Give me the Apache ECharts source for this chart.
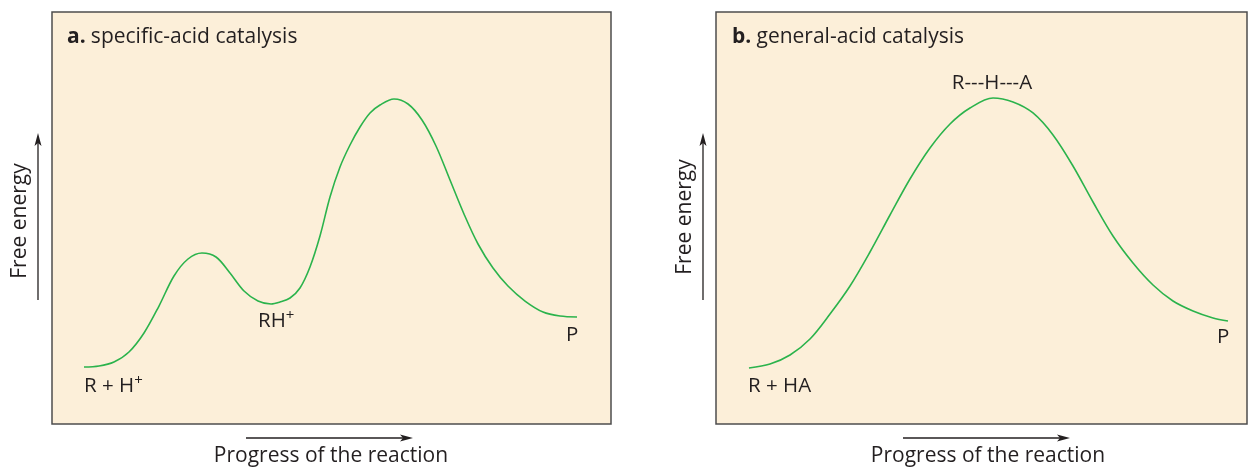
<!DOCTYPE html>
<html><head><meta charset="utf-8">
<script src="https://cdn.jsdelivr.net/npm/echarts@6/dist/echarts.min.js"></script>
<style>html,body{margin:0;padding:0;background:#fff}#c{width:1249px;height:468px}</style>
</head><body><div id="c"></div>
<script>
// Panel a: specific-acid catalysis (progress 0-100, free energy 0-100)
const specificProgress = [5.72, 8.41, 11.09, 13.77, 16.46, 19.14, 21.82, 24.33, 26.83, 29.34, 31.84, 34.35, 36.85, 39.18, 40.79, 42.58, 44.36, 46.15, 47.94, 49.73, 51.52, 53.31, 55.10, 56.89, 58.68, 61.18, 63.69, 66.19, 68.69, 71.20, 73.70, 76.21, 78.89, 81.57, 84.62, 87.84, 90.88, 93.92];
const specificEnergy   = [13.83, 14.08, 15.05, 17.48, 22.09, 28.64, 35.92, 40.05, 41.50, 40.53, 36.65, 32.28, 29.85, 29.13, 29.61, 30.58, 33.01, 38.11, 45.63, 55.10, 62.38, 67.72, 72.09, 75.49, 77.43, 78.88, 77.67, 73.79, 67.48, 59.22, 50.97, 43.69, 37.86, 33.50, 29.85, 27.18, 26.21, 25.97];
// Panel b: general-acid catalysis
const generalProgress = [6.21, 10.17, 13.94, 17.70, 21.47, 25.24, 29.00, 32.77, 36.53, 40.30, 44.07, 47.83, 52.17, 55.93, 59.70, 63.47, 67.23, 71.00, 74.76, 78.53, 82.30, 86.06, 89.83, 93.60, 96.42];
const generalEnergy   = [13.59, 14.56, 16.75, 20.63, 26.70, 33.50, 41.75, 50.73, 59.47, 66.99, 72.82, 76.70, 79.13, 78.16, 75.49, 70.15, 62.62, 53.88, 45.63, 39.08, 33.74, 29.85, 27.43, 25.73, 25.00];

const titles = ['specific-acid catalysis', 'general-acid catalysis'];
const panelLetters = ['a.', 'b.'];
const axisNameX = 'Progress of the reaction';
const axisNameY = 'Free energy';

const zip = (a, b) => a.map((v, i) => [v, b[i]]);
const FONT = '"Open Sans", "Noto Sans", sans-serif';
const TXT = '#231f20';
const GREEN = '#2bb34c';
const BG = '#fcefd9';

const chart = echarts.init(document.getElementById('c'), null, {renderer: 'canvas'});

function txt(x, y, rich, text, extra) {
  return {
    type: 'text', x: x, y: y, z: 100,
    style: Object.assign({text: text, fill: TXT, font: '20px ' + FONT, rich: rich, align: 'left', verticalAlign: 'middle'}, extra || {})
  };
}
const supRich = {
  n: {fontSize: 20.5, fontFamily: FONT, color: TXT, lineHeight: 24, verticalAlign: 'bottom'},
  s: {fontSize: 15, fontFamily: FONT, color: TXT, lineHeight: 15, verticalAlign: 'bottom', padding: [0, 0, 9, 0]}
};
const titleRich = {
  b: {fontSize: 21, fontFamily: FONT, fontWeight: 'bold', color: TXT},
  n: {fontSize: 21, fontFamily: FONT, color: TXT}
};

function arrowV(x, y1, y2) {
  return [
    {type: 'line', shape: {x1: x, y1: y1, x2: x, y2: y2 + 8}, style: {stroke: '#231f20', lineWidth: 1.3}},
    {type: 'polygon', shape: {points: [[x, y2], [x - 3.5, y2 + 13], [x, y2 + 10], [x + 3.5, y2 + 13]]}, style: {fill: '#231f20'}}
  ];
}
function arrowH(x1, x2, y) {
  return [
    {type: 'line', shape: {x1: x1, y1: y, x2: x2 - 8, y2: y}, style: {stroke: '#231f20', lineWidth: 1.3}},
    {type: 'polygon', shape: {points: [[x2, y], [x2 - 13, y - 3.5], [x2 - 10, y], [x2 - 13, y + 3.5]]}, style: {fill: '#231f20'}}
  ];
}
const axisFont = '21px ' + FONT;

const graphics = [].concat(
  [
    txt(67, 37, titleRich, '{b|' + panelLetters[0] + '} {n|' + titles[0] + '}'),
    txt(732, 37, titleRich, '{b|' + panelLetters[1] + '} {n|' + titles[1] + '}'),
    txt(84, 385, supRich, '{n|R + H}{s|+}'),
    txt(258, 320, supRich, '{n|RH}{s|+}'),
    txt(566, 334, supRich, '{n|P}'),
    txt(748, 385, supRich, '{n|R + HA}'),
    txt(1217, 336, supRich, '{n|P}'),
    txt(992, 82, supRich, '{n|R---H---A}', {align: 'center'}),
    {type: 'text', x: 331, y: 456, style: {text: axisNameX, fill: TXT, font: axisFont, align: 'center', verticalAlign: 'middle'}},
    {type: 'text', x: 988, y: 456, style: {text: axisNameX, fill: TXT, font: axisFont, align: 'center', verticalAlign: 'middle'}},
    {type: 'text', x: 20, y: 221, rotation: Math.PI / 2, style: {text: axisNameY, fill: TXT, font: axisFont, align: 'center', verticalAlign: 'middle'}},
    {type: 'text', x: 685, y: 217, rotation: Math.PI / 2, style: {text: axisNameY, fill: TXT, font: axisFont, align: 'center', verticalAlign: 'middle'}}
  ],
  arrowV(38, 300, 133),
  arrowV(703, 300, 133),
  arrowH(246, 413, 438),
  arrowH(903, 1070, 438)
);

const hiddenAxis = {show: false, min: 0, max: 100};
chart.setOption({
  animation: false,
  backgroundColor: '#ffffff',
  grid: [
    {left: 52, top: 12, width: 559, height: 412, show: true, backgroundColor: BG, borderColor: '#4d4d4d', borderWidth: 1.5},
    {left: 716, top: 12, width: 531, height: 412, show: true, backgroundColor: BG, borderColor: '#4d4d4d', borderWidth: 1.5}
  ],
  xAxis: [
    Object.assign({type: 'value', gridIndex: 0}, hiddenAxis),
    Object.assign({type: 'value', gridIndex: 1}, hiddenAxis)
  ],
  yAxis: [
    Object.assign({type: 'value', gridIndex: 0}, hiddenAxis),
    Object.assign({type: 'value', gridIndex: 1}, hiddenAxis)
  ],
  series: [
    {type: 'line', xAxisIndex: 0, yAxisIndex: 0, data: zip(specificProgress, specificEnergy), smooth: 0.33, symbol: 'none', lineStyle: {color: GREEN, width: 1.6}},
    {type: 'line', xAxisIndex: 1, yAxisIndex: 1, data: zip(generalProgress, generalEnergy), smooth: 0.33, symbol: 'none', lineStyle: {color: GREEN, width: 1.6}}
  ],
  graphic: graphics
});
</script></body></html>
